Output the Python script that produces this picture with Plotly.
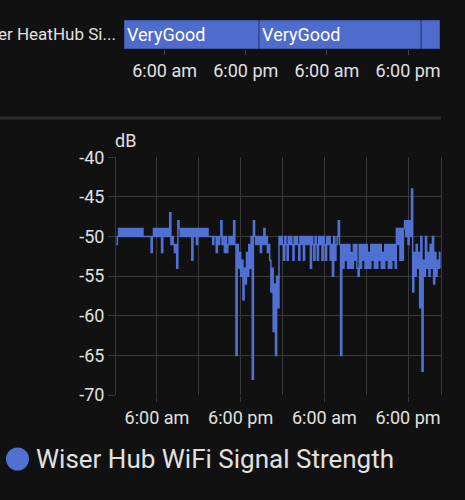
import plotly.graph_objects as go
import pandas as pd

# signal strength samples, every 10 minutes from 00:10 on day one (dB)
signal_start = "2023-01-10 00:10"
signal_db = [
    -51, -50,
    -49, -50, -49, -50, -49, -50, -49, -50, -49, -50, -49, -50, -49, -50, -49, -50, -49, -50, -49, -50, -49,
    -50, -50, -50, -50, -50, -50, -50, -52, -50,
    -49, -50, -49, -50, -49, -50, -49, -52, -49, -50, -49, -50, -49,
    -50, -47, -51, -50, -51, -52, -51, -54, -48,
    -49, -50, -49, -50, -49, -50, -49, -50, -49, -50, -49, -53, -49, -50, -49, -51, -49, -50,
    -49, -50, -49, -50, -49, -50, -49,
    -50, -50, -50, -50, -51, -50, -50, -52,
    -50, -51, -50, -48, -51, -50, -52, -50, -52, -51, -50, -51, -50, -51, -48, -51,
    -65, -51, -54, -52, -55, -53, -58, -54, -56, -52, -55, -51, -54, -50, -68, -48,
    -50, -51, -50, -51, -50, -52, -50, -51, -49, -51, -50, -52, -51,
    -53, -57, -54, -62, -56, -65, -55, -59,
    -50, -51, -50, -51, -53, -50, -51, -53, -50, -51,
    -50, -51, -53, -50, -51, -50, -51, -53, -50, -51,
    -50, -53, -50, -51, -50, -51, -50, -54, -50, -51,
    -53, -50, -51, -53, -50, -51, -50, -53, -50, -51,
    -53, -50, -51, -50, -53, -51, -55, -50, -53, -51,
    -50,
    -48, -51, -65,
    -51, -54, -51, -53, -51, -54, -51, -54, -52, -54,
    -51, -53, -51, -54, -55, -51, -54, -51, -53, -51,
    -54, -51, -54, -52, -54, -51, -53, -51, -54, -51,
    -54, -51, -53, -51, -54, -52, -54, -51, -53, -51,
    -54, -51, -54, -51, -53, -51, -54,
    -49, -51, -49, -53, -49, -53, -49,
    -48, -50, -48, -51, -48, -50, -44, -57,
    -52, -55, -51, -54, -52, -59, -50, -67, -53, -55, -50, -54,
    -52, -55, -51, -54, -50, -56, -52, -55, -53, -54, -52, -54,
]

# wifi quality state timeline
state_names = ["VeryGood", "VeryGood", "VeryGood"]
state_starts = ["2023-01-10 00:00", "2023-01-10 19:58", "2023-01-11 19:56"]
state_ends = ["2023-01-10 19:58", "2023-01-11 19:56", "2023-01-11 22:43"]

tick_vals = ["2023-01-10 06:00", "2023-01-10 18:00", "2023-01-11 06:00", "2023-01-11 18:00"]
tick_text = ["6:00 am", "6:00 pm", "6:00 am", "6:00 pm"]
grid_vals = ["2023-01-10 12:00", "2023-01-11 00:00", "2023-01-11 12:00"]
y_ticks = [-40, -45, -50, -55, -60, -65, -70]
y_ticklabels = ["-40", "-45", "-50", "-55", "-60", "-65", "-70"]

BG = "#111111"
TXT = "#e1e1e1"
GRID = "#3a3a3a"
BLUE = "#5070d2"
W, H = 465, 500

times = pd.date_range(signal_start, periods=len(signal_db), freq="10min")
starts = pd.to_datetime(pd.Series(state_starts))
ends = pd.to_datetime(pd.Series(state_ends))
durations = (ends - starts).dt.total_seconds() * 1000


def px_x(v):
    return v / W


def px_y(v):
    return 1 - v / H


fig = go.Figure()

fig.add_trace(go.Bar(
    base=state_starts,
    x=durations,
    y=[0, 0, 0],
    orientation="h",
    width=1,
    text=state_names,
    textposition="inside",
    insidetextanchor="start",
    textfont=dict(color="#ffffff", size=18),
    marker=dict(color="#4f6bcc", line=dict(color="rgba(30,40,90,0.6)", width=1)),
    xaxis="x2",
    yaxis="y2",
    showlegend=False,
    hoverinfo="skip",
))

fig.add_trace(go.Scatter(
    x=times,
    y=signal_db,
    mode="lines",
    line=dict(color=BLUE, width=1.5, shape="hv"),
    name="Wiser Hub WiFi Signal Strength",
    showlegend=False,
))

fig.update_layout(
    width=W,
    height=H,
    margin=dict(l=0, r=0, t=0, b=0, autoexpand=False),
    paper_bgcolor=BG,
    plot_bgcolor=BG,
    font=dict(family="Roboto", size=18, color=TXT),
    uniformtext=dict(minsize=18, mode="hide"),
    xaxis=dict(
        domain=[px_x(116), px_x(440.7)],
        range=["2023-01-10 00:08", "2023-01-11 22:41"],
        tickmode="array",
        tickvals=tick_vals,
        ticktext=tick_text,
        ticks="outside",
        ticklen=6,
        tickcolor=GRID,
        showgrid=True,
        gridcolor=GRID,
        minor=dict(tickmode="array", tickvals=grid_vals, showgrid=True, gridcolor=GRID, ticks=""),
        showline=False,
        zeroline=False,
        automargin=False,
        anchor="y",
    ),
    yaxis=dict(
        domain=[px_y(395), px_y(157.3)],
        range=[-70, -40],
        tickmode="array",
        tickvals=y_ticks,
        ticktext=y_ticklabels,
        ticks="outside",
        ticklen=7,
        tickcolor=GRID,
        gridcolor=GRID,
        showline=True,
        mirror=True,
        linecolor=GRID,
        zeroline=False,
        automargin=False,
        anchor="x",
    ),
    xaxis2=dict(
        domain=[px_x(124), px_x(440)],
        type="date",
        range=["2023-01-10 00:00", "2023-01-11 22:43"],
        tickmode="array",
        tickvals=tick_vals,
        ticktext=tick_text,
        ticks="outside",
        ticklen=5,
        tickcolor="#444444",
        showgrid=False,
        showline=False,
        zeroline=False,
        automargin=False,
        anchor="y2",
    ),
    yaxis2=dict(
        domain=[px_y(49), px_y(20)],
        range=[-0.5, 0.5],
        visible=False,
        automargin=False,
        anchor="x2",
    ),
    shapes=[
        dict(type="line", xref="paper", yref="paper", x0=0, x1=px_x(441),
             y0=px_y(118), y1=px_y(118), line=dict(color="#2c2c2c", width=3)),
        dict(type="circle", xref="paper", yref="paper", x0=px_x(6), x1=px_x(29),
             y0=px_y(470.5), y1=px_y(447.5), fillcolor=BLUE, line=dict(width=0)),
    ],
    annotations=[
        dict(text="Wiser HeatHub Si...", xref="paper", yref="paper", x=px_x(118), y=px_y(34),
             xanchor="right", yanchor="middle", showarrow=False, font=dict(size=17, color=TXT)),
        dict(text="dB", xref="paper", yref="paper", x=px_x(113), y=px_y(140),
             xanchor="left", yanchor="middle", showarrow=False, font=dict(size=18, color=TXT)),
        dict(text="Wiser Hub WiFi Signal Strength", xref="paper", yref="paper", x=px_x(34),
             y=px_y(459), xanchor="left", yanchor="middle", showarrow=False,
             font=dict(size=26, color=TXT)),
    ],
)

fig.write_html("out.html", config={"displayModeBar": False},
               post_script="document.body.style.margin='0';")
